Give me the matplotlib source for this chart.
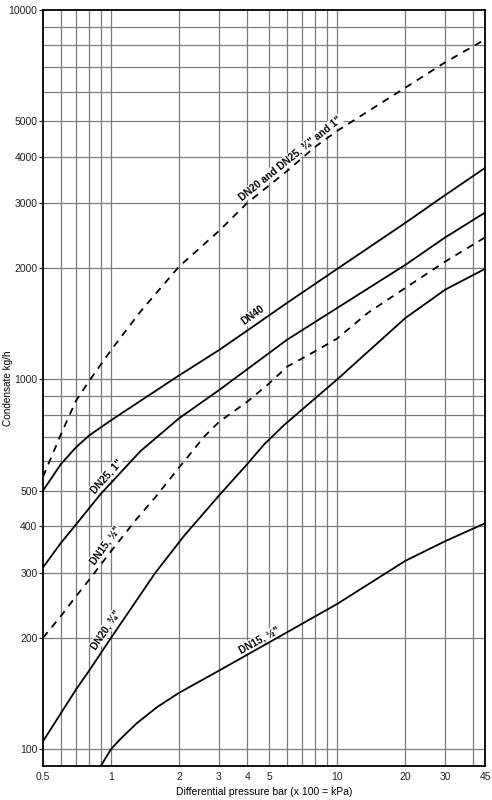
import matplotlib
matplotlib.use("Agg")
import math
import matplotlib.pyplot as plt
from matplotlib.ticker import FixedLocator, NullLocator, FixedFormatter

plt.rcParams["font.family"] = ["Liberation Sans", "DejaVu Sans"]

# curve data (differential pressure bar, condensate kg/h)
dn20_25_x = [0.5, 0.6, 0.7, 0.8, 1.0, 1.35, 2, 3, 4, 6, 8, 10, 20, 30, 45]
dn20_25_y = [545, 710, 876, 990, 1200, 1526, 2020, 2520, 3000, 3660, 4260, 4700, 6150, 7200, 8300]

dn40_x = [0.5, 0.6, 0.7, 0.8, 1.0, 1.35, 2, 3, 4, 6, 10, 20, 30, 45]
dn40_y = [500, 590, 655, 705, 775, 875, 1025, 1200, 1355, 1610, 1990, 2650, 3150, 3730]

dn25_x = [0.5, 0.6, 0.7, 0.9, 1.0, 1.35, 2, 3, 4, 6, 10, 20, 30, 45]
dn25_y = [310, 361, 405, 490, 525, 640, 785, 935, 1065, 1280, 1560, 2040, 2420, 2825]

dn15d_x = [0.5, 0.6, 0.7, 0.8, 1.0, 1.3, 1.57, 2, 2.23, 2.58, 3, 4, 5, 6, 8, 10, 13.6, 20, 30, 45]
dn15d_y = [200, 229, 259, 287, 343, 420, 480, 578, 627, 700, 767, 870, 975, 1082, 1192, 1290, 1510, 1767, 2082, 2420]

dn20_x = [0.5, 0.6, 0.7, 0.8, 1.0, 1.57, 2.1, 3, 4, 4.75, 5.8, 10, 20, 30, 45]
dn20_y = [105, 125, 145, 163, 200, 300, 377, 485, 590, 667, 751, 1000, 1465, 1748, 1990]

dn15_x = [0.9, 1.0, 1.1, 1.3, 1.6, 2, 3, 4, 6, 10, 20, 30, 45]
dn15_y = [90, 100, 106.5, 117.5, 130, 142, 163, 180, 207, 247, 323, 365, 408]

x_ticks = [0.5, 1, 2, 3, 4, 5, 10, 20, 30, 45]
x_tick_labels = ["0.5", "1", "2", "3", "4", "5", "10", "20", "30", "45"]
x_grid = [0.6, 0.7, 0.8, 0.9, 1, 2, 3, 4, 5, 6, 7, 8, 9, 10, 20, 30, 40]
y_ticks = [100, 200, 300, 400, 500, 1000, 2000, 3000, 4000, 5000, 10000]
y_tick_labels = ["100", "200", "300", "400", "500", "1000", "2000", "3000", "4000", "5000", "10000"]
y_grid = [100, 200, 300, 400, 500, 600, 700, 800, 900, 1000,
          2000, 3000, 4000, 5000, 6000, 7000, 8000, 9000]

fig = plt.figure(figsize=(4.92, 8.0), dpi=100)
ax = fig.add_axes([0.0874, 0.0425, 0.8984, 0.9455])
ax.set_xscale("log")
ax.set_yscale("log")
ax.set_xlim(0.5, 45)
ax.set_ylim(90, 10000)

for gx in x_grid:
    ax.axvline(gx, color="#7a7a7a", lw=0.9, zorder=1)
for gy in y_grid:
    ax.axhline(gy, color="#7a7a7a", lw=0.9, zorder=1)

ax.xaxis.set_major_locator(FixedLocator(x_ticks))
ax.xaxis.set_major_formatter(FixedFormatter(x_tick_labels))
ax.xaxis.set_minor_locator(NullLocator())
ax.yaxis.set_major_locator(FixedLocator(y_ticks))
ax.yaxis.set_major_formatter(FixedFormatter(y_tick_labels))
ax.yaxis.set_minor_locator(NullLocator())
ax.tick_params(axis="both", labelsize=7.5, colors="#222222", width=0.8)
ax.tick_params(axis="x", length=0, pad=4)
ax.tick_params(axis="y", length=3, pad=1)

for s in ax.spines.values():
    s.set_linewidth(1.3)
    s.set_color("black")
    s.set_zorder(5)

lw = 1.3
dash = (0, (4, 3.5))
ax.plot(dn20_25_x, dn20_25_y, color="black", lw=lw, linestyle=dash, zorder=3)
ax.plot(dn40_x, dn40_y, color="black", lw=lw, zorder=3)
ax.plot(dn25_x, dn25_y, color="black", lw=lw, zorder=3)
ax.plot(dn15d_x, dn15d_y, color="black", lw=lw, linestyle=dash, zorder=3)
ax.plot(dn20_x, dn20_y, color="black", lw=lw, zorder=3)
ax.plot(dn15_x, dn15_y, color="black", lw=lw, zorder=3)


def curve_label(x, y, text, angle, shift=2.0):
    # nudge the label a little away from its curve (perpendicular, up-left)
    dx = -math.sin(math.radians(angle)) * shift
    dy = math.cos(math.radians(angle)) * shift
    ax.annotate(text, xy=(x, y), xytext=(dx, dy), textcoords="offset points",
                fontsize=7.3, fontweight="bold", ha="center", va="center",
                rotation=angle, rotation_mode="anchor", zorder=2,
                bbox=dict(facecolor="white", edgecolor="none", pad=0.6))


curve_label(6.3, 3900, "DN20 and DN25, \u00be\" and 1\"", 38.7)
curve_label(4.3, 1470, "DN40", 36)
curve_label(0.975, 540, "DN25, 1\"", 48)
curve_label(0.965, 352, "DN15, \u00bd\"", 54)
curve_label(0.965, 208, "DN20, \u00be\"", 56)
curve_label(4.6, 194, "DN15, \u00bd\"", 29)

ax.set_ylabel("Condensate kg/h", fontsize=7.2, va="center")
ax.yaxis.set_label_coords(-0.079, 0.5)
ax.set_xlabel("Differential pressure bar (x 100 = kPa)", fontsize=7.5, labelpad=4)

fig.savefig("out.png", dpi=100)
